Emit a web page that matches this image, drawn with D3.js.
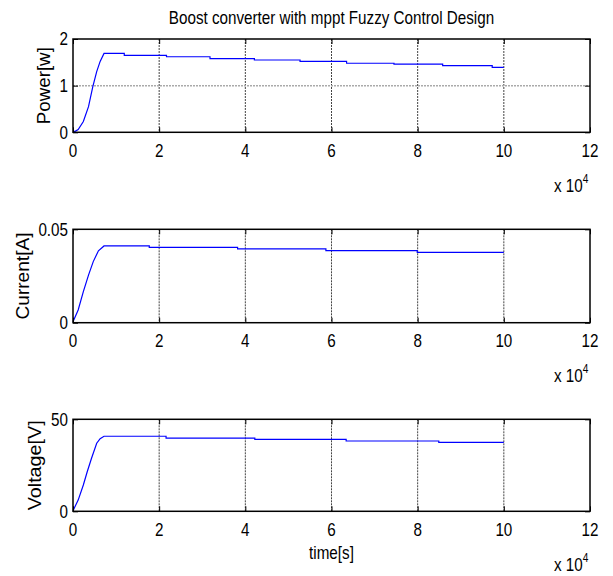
<!DOCTYPE html>
<html>
<head>
<meta charset="utf-8">
<script src="https://cdn.jsdelivr.net/npm/d3@7"></script>
<style>
  body { margin: 0; background: #fff; }
  svg text { font-family: "Liberation Sans", Arial, Helvetica, sans-serif; fill: #000; }
</style>
</head>
<body>
<svg id="chart" width="613" height="576"></svg>
<script>
// time in seconds
var powerTime = [0, 500, 1200, 2400, 3600, 4600, 5500, 6300, 7200, 11900, 11900, 21700, 21700, 31800, 31800,
  42100, 42100, 52700, 52700, 63500, 63500, 74500, 74500, 85800, 85800, 97300, 97300, 100000];
var powerVals = [0.02, 0.02, 0.06, 0.23, 0.55, 0.98, 1.30, 1.52, 1.69, 1.69, 1.65, 1.65, 1.62, 1.62,
  1.58, 1.58, 1.55, 1.55, 1.52, 1.52, 1.48, 1.48, 1.46, 1.46, 1.43, 1.43, 1.39, 1.39];

var currentTime = [0, 1200, 2400, 3600, 4700, 5900, 7200, 17700, 17700, 38200, 38200, 58700, 58700, 79900, 79900, 100000];
var currentVals = [0.0005, 0.0068, 0.0166, 0.0255, 0.0327, 0.0385, 0.0411, 0.0411, 0.0403, 0.0403,
  0.0395, 0.0395, 0.0386, 0.0386, 0.0377, 0.0377];

var voltageTime = [0, 1200, 2400, 3300, 4300, 5500, 6300, 7200, 21600, 21600, 42200, 42200, 63400, 63400, 84900, 84900, 100000];
var voltageVals = [0.3, 6.1, 14.3, 21.5, 28.8, 37.0, 39.5, 40.8, 40.8, 39.8, 39.8, 39.1, 39.1, 38.2, 38.2, 37.5, 37.5];

var xTicks = [0, 20000, 40000, 60000, 80000, 100000, 120000];
var titleText = "Boost converter with mppt Fuzzy Control Design";

var panels = [
  { time: powerTime, vals: powerVals, domain: [0, 2], yTicks: [0, 1, 2], ylabel: "Power[w]",
    top: 39, bottom: 132.3, labelX: 50, labelLen: 77 },
  { time: currentTime, vals: currentVals, domain: [0, 0.05], yTicks: [0, 0.05], ylabel: "Current[A]",
    top: 229.3, bottom: 322.7, labelX: 29, labelLen: 87 },
  { time: voltageTime, vals: voltageVals, domain: [0, 50], yTicks: [0, 50], ylabel: "Voltage[V]",
    top: 419.3, bottom: 511.3, labelX: 41, labelLen: 90 }
];

var svg = d3.select("#chart");
var left = 73, right = 590, squeeze = 0.845;

// text is horizontally narrow in the original, so squeeze it a bit
function label(g, x, y, txt, size, anchor) {
  return g.append("text")
    .attr("transform", "translate(" + x + "," + y + ") scale(" + squeeze + ",1)")
    .attr("text-anchor", anchor)
    .style("font-size", size + "px")
    .text(txt);
}

var x = d3.scaleLinear().domain([0, 120000]).range([left, right]);

label(svg, (left + right) / 2, 24, titleText, 18, "middle");

panels.forEach(function (p, i) {
  var y = d3.scaleLinear().domain(p.domain).range([p.bottom, p.top]);
  var g = svg.append("g");

  // grid
  g.selectAll(".vgrid")
    .data(xTicks.slice(1, -1))
    .enter()
    .append("line")
    .attr("x1", d => x(d)).attr("x2", d => x(d))
    .attr("y1", p.top).attr("y2", p.bottom)
    .attr("stroke", "#444").attr("stroke-width", 1)
    .attr("stroke-dasharray", "2,1");
  g.selectAll(".hgrid")
    .data(p.yTicks.slice(1, -1))
    .enter()
    .append("line")
    .attr("x1", left).attr("x2", right)
    .attr("y1", d => y(d)).attr("y2", d => y(d))
    .attr("stroke", "#aaa").attr("stroke-width", 1.5)
    .attr("stroke-dasharray", "2,1");

  // data line
  var pts = p.time.map((t, k) => [t, p.vals[k]]);
  g.append("path")
    .datum(pts)
    .attr("fill", "none")
    .attr("stroke", "#0000ff")
    .attr("stroke-width", 1.2)
    .attr("d", d3.line().x(d => x(d[0])).y(d => y(d[1])));

  // axes, ticks pointing in
  var bx = g.append("g")
    .attr("transform", "translate(0," + p.bottom + ")")
    .call(d3.axisBottom(x).tickValues(xTicks).tickSize(-5).tickSizeOuter(0).tickFormat(d => d / 10000));
  bx.selectAll("text").remove();
  g.append("g")
    .attr("transform", "translate(0," + p.top + ")")
    .call(d3.axisTop(x).tickValues(xTicks).tickSize(-5).tickSizeOuter(0).tickFormat(""));
  g.append("g")
    .attr("transform", "translate(" + left + ",0)")
    .call(d3.axisLeft(y).tickValues(p.yTicks).tickSize(-5).tickSizeOuter(0).tickFormat(""));
  g.append("g")
    .attr("transform", "translate(" + right + ",0)")
    .call(d3.axisRight(y).tickValues(p.yTicks).tickSize(-5).tickSizeOuter(0).tickFormat(""));
  g.selectAll(".domain").remove();
  g.selectAll(".tick line").attr("stroke", "#000");

  // frame
  g.append("rect")
    .attr("x", left).attr("y", p.top)
    .attr("width", right - left).attr("height", p.bottom - p.top)
    .attr("fill", "none").attr("stroke", "#000").attr("stroke-width", 1.5);

  // tick labels
  xTicks.forEach(function (t) {
    label(g, x(t), p.bottom + 24.4, String(t / 10000), 18, "middle");
  });
  p.yTicks.forEach(function (v) {
    label(g, left - 5, y(v) + 6.3, String(v), 18, "end");
  });

  // exponent
  var ex = label(g, 554, p.bottom + 59.5, "x 10", 18, "start");
  ex.append("tspan").attr("dy", -9).style("font-size", "12px").text("4");

  // y label
  g.append("text")
    .attr("transform", "translate(" + p.labelX + "," + (p.top + p.bottom) / 2 + ") rotate(-90)")
    .attr("text-anchor", "middle")
    .attr("textLength", p.labelLen)
    .attr("lengthAdjust", "spacingAndGlyphs")
    .style("font-size", "18px")
    .text(p.ylabel);
});

label(svg, (left + right) / 2, 559, "time[s]", 18, "middle");
</script>
</body>
</html>
